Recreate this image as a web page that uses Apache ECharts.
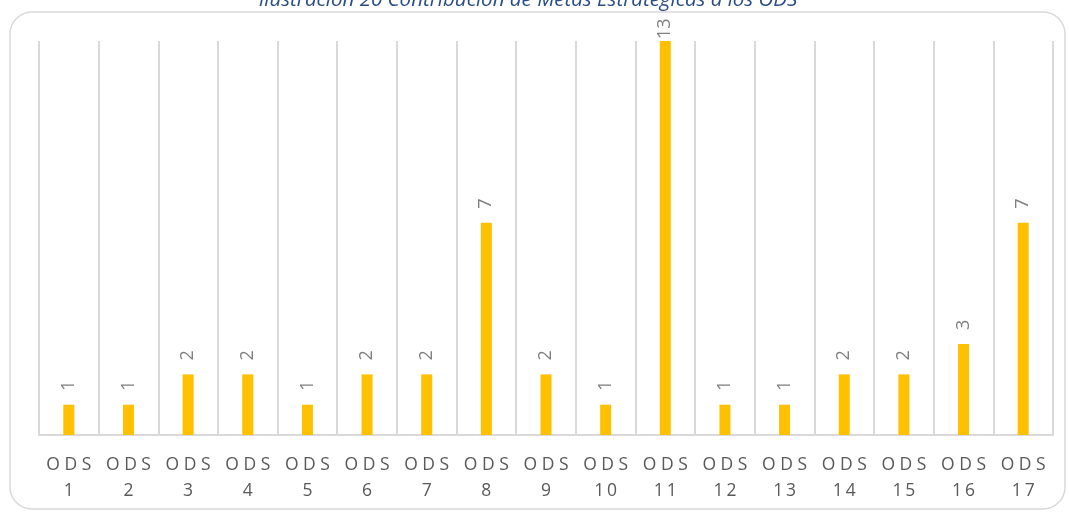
<!DOCTYPE html>
<html>
<head>
<meta charset="utf-8">
<script src="https://cdn.jsdelivr.net/npm/echarts@6/dist/echarts.min.js"></script>
<style>
  html, body { margin: 0; padding: 0; background: #fff; }
  #chart { width: 1069px; height: 513px; }
</style>
</head>
<body>
<div id="chart"></div>
<script>
const categories = ['1', '2', '3', '4', '5', '6', '7', '8', '9', '10', '11', '12', '13', '14', '15', '16', '17'];
const values = [1, 1, 2, 2, 1, 2, 2, 7, 2, 1, 13, 1, 1, 2, 2, 3, 7];
const titleText = 'Ilustración 20 Contribución de Metas Estratégicas a los ODS';

const chart = echarts.init(document.getElementById('chart'));

// the tallest bar touches the top of the plot, so its label sits closer
const barData = values.map(v => {
    if (v === 13) return { value: v, label: { distance: 2 } };
    return v;
});

const option = {
    animation: false,
    grid: { left: 39, right: 16, top: 41, bottom: 78 },
    graphic: [
        {
            type: 'rect',
            shape: { x: 10, y: 12, width: 1055, height: 497, r: 22 },
            style: { fill: 'none', stroke: '#d9d9d9', lineWidth: 1.5 },
            z: -1
        },
        {
            type: 'text',
            x: 528,
            y: -10,
            style: {
                text: titleText,
                align: 'center',
                font: 'italic 20.5px "Open Sans"',
                fill: '#2a4d86'
            }
        }
    ],
    xAxis: {
        type: 'category',
        data: categories,
        axisLine: { lineStyle: { color: '#d9d9d9', width: 2 } },
        axisTick: { show: false },
        splitLine: { show: true, lineStyle: { color: '#d9d9d9', width: 2 } },
        axisLabel: {
            interval: 0,
            margin: 17,
            fontFamily: 'Open Sans',
            fontSize: 17.5,
            lineHeight: 26,
            color: '#595959',
            formatter: v => 'O D S\n' + v.split('').join('\u2009')
        }
    },
    yAxis: {
        type: 'value',
        min: 0,
        max: 13,
        show: false,
        splitLine: { show: false }
    },
    series: [{
        type: 'bar',
        data: barData,
        barWidth: 11,
        itemStyle: { color: '#ffc000' },
        label: {
            show: true,
            position: 'top',
            rotate: 90,
            align: 'left',
            verticalAlign: 'middle',
            distance: 14,
            fontFamily: 'Open Sans',
            fontSize: 18,
            color: '#7f7f7f'
        }
    }]
};

chart.setOption(option);
</script>
</body>
</html>
